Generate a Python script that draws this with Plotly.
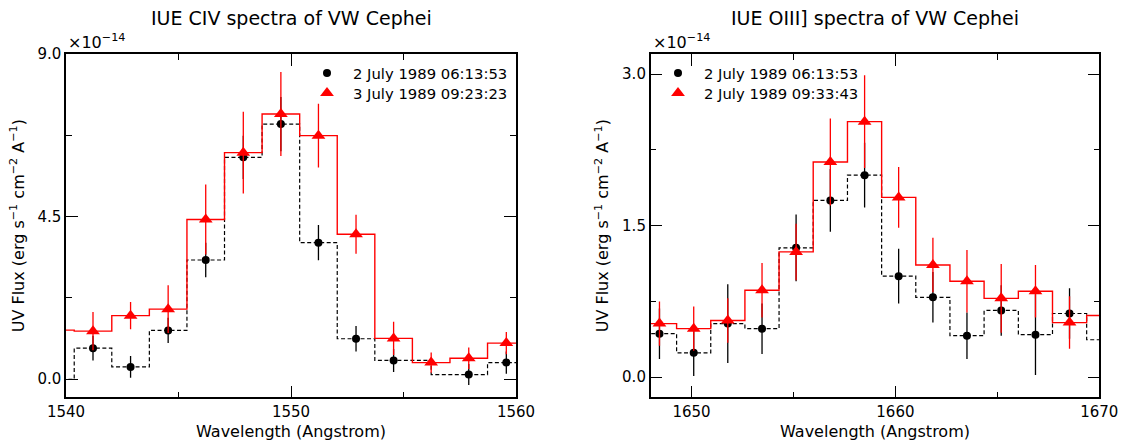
import plotly.graph_objects as go

# ---------------- data (flux in units of 1e-14 erg s^-1 cm^-2 A^-1) ----------------
# CIV panel
civ_wave_a = [1539.53, 1541.20, 1542.87, 1544.54, 1546.21, 1547.88, 1549.55, 1551.22,
              1552.89, 1554.56, 1557.90, 1559.57, 1561.24]
civ_flux_a = [0.00, 0.86, 0.34, 1.35, 3.30, 6.14, 7.06, 3.78, 1.12, 0.52, 0.13, 0.46, 0.46]
civ_err_a = [0.00, 0.34, 0.30, 0.35, 0.48, 0.60, 0.75, 0.49, 0.35, 0.32, 0.29, 0.31, 0.00]

civ_wave_b = [1539.53, 1541.20, 1542.87, 1544.54, 1546.21, 1547.88, 1549.55, 1551.22,
              1552.89, 1554.56, 1556.23, 1557.90, 1559.57, 1561.24]
civ_flux_b = [1.36, 1.33, 1.76, 1.94, 4.42, 6.27, 7.34, 6.74, 4.01, 1.13, 0.46, 0.58, 1.00, 1.00]
civ_err_b = [0.00, 0.53, 0.38, 0.66, 0.97, 1.13, 1.16, 0.88, 0.54, 0.46, 0.28, 0.30, 0.31, 0.00]

civ_label_a = "2 July 1989 06:13:53"
civ_label_b = "3 July 1989 09:23:23"

# OIII] panel
oiii_wave = [1646.75, 1648.43, 1650.11, 1651.78, 1653.46, 1655.13, 1656.81, 1658.49,
             1660.16, 1661.84, 1663.51, 1665.19, 1666.87, 1668.54, 1670.22]
oiii_flux_a = [0.43, 0.43, 0.24, 0.53, 0.48, 1.28, 1.75, 2.00, 1.00, 0.79, 0.41, 0.66, 0.42, 0.63, 0.37]
oiii_err_a = [0.00, 0.25, 0.23, 0.39, 0.25, 0.33, 0.31, 0.32, 0.27, 0.25, 0.23, 0.25, 0.40, 0.25, 0.00]
oiii_flux_b = [0.53, 0.53, 0.48, 0.56, 0.86, 1.24, 2.13, 2.53, 1.78, 1.11, 0.95, 0.78, 0.85, 0.54, 0.61]
oiii_err_b = [0.00, 0.22, 0.22, 0.22, 0.27, 0.28, 0.43, 0.46, 0.30, 0.27, 0.31, 0.34, 0.26, 0.26, 0.00]

oiii_label_a = "2 July 1989 06:13:53"
oiii_label_b = "2 July 1989 09:33:43"

civ_yticks = [0.0, 4.5, 9.0]
civ_yminor = [2.25, 6.75]
civ_xticks = [1540, 1550, 1560]
civ_xminor = [1545, 1555]
oiii_yticks = [0.0, 1.5, 3.0]
oiii_yminor = [0.75, 2.25]
oiii_xticks = [1650, 1660, 1670]
oiii_xminor = [1655, 1665]

# ---------------- figure ----------------
FONT = "DejaVu Sans"
W, H = 1123, 448
RED = "#ff0000"
CIRCLE = dict(symbol="circle", size=8, color="black")
TRIANGLE = dict(symbol="triangle-up", size=12, color=RED)

fig = go.Figure()


def add_panel(xa, ya, wave_a, flux_a, err_a, wave_b, flux_b, err_b, lab_a, lab_b):
    # step lines
    fig.add_trace(go.Scatter(x=wave_a, y=flux_a, mode="lines", line_shape="hvh",
                             line=dict(color="black", width=1.2, dash="4px,2.5px"),
                             xaxis=xa, yaxis=ya, showlegend=False, hoverinfo="skip"))
    fig.add_trace(go.Scatter(x=wave_b, y=flux_b, mode="lines", line_shape="hvh",
                             line=dict(color=RED, width=1.4),
                             xaxis=xa, yaxis=ya, showlegend=False, hoverinfo="skip"))
    # points with error bars
    fig.add_trace(go.Scatter(x=wave_a[1:-1], y=flux_a[1:-1], mode="markers", marker=CIRCLE,
                             error_y=dict(type="data", array=err_a[1:-1], color="black",
                                          thickness=1.3, width=0),
                             xaxis=xa, yaxis=ya, name=lab_a, showlegend=False))
    fig.add_trace(go.Scatter(x=wave_b[1:-1], y=flux_b[1:-1], mode="markers", marker=TRIANGLE,
                             error_y=dict(type="data", array=err_b[1:-1], color=RED,
                                          thickness=1.3, width=0),
                             xaxis=xa, yaxis=ya, name=lab_b, showlegend=False))


add_panel("x", "y", civ_wave_a, civ_flux_a, civ_err_a,
          civ_wave_b, civ_flux_b, civ_err_b, civ_label_a, civ_label_b)
add_panel("x2", "y2", oiii_wave, oiii_flux_a, oiii_err_a,
          oiii_wave, oiii_flux_b, oiii_err_b, oiii_label_a, oiii_label_b)

# pixel geometry
L1, R1 = 66, 516
L2, R2 = 650.7, 1099.3
TOP, BOT = 54, 397.3
dom_y = [(H - BOT) / H, (H - TOP) / H]

# legend key layout (pixel positions of symbol centres, text starts 25 px right)
LEG_ROWS = [73, 93]
LEG_X = [327, 678]

# legend symbols on a full-page overlay axis measured in pixels
fig.add_trace(go.Scatter(x=[LEG_X[0], LEG_X[1]], y=[LEG_ROWS[0]] * 2, mode="markers",
                         marker=CIRCLE, xaxis="x3", yaxis="y3", showlegend=False,
                         hoverinfo="skip", cliponaxis=False))
fig.add_trace(go.Scatter(x=[LEG_X[0], LEG_X[1]], y=[LEG_ROWS[1]] * 2, mode="markers",
                         marker=TRIANGLE, xaxis="x3", yaxis="y3", showlegend=False,
                         hoverinfo="skip", cliponaxis=False))


def xaxis(dom, rng, ticks, minor):
    return dict(domain=[dom[0] / W, dom[1] / W], range=rng, tickmode="array",
                tickvals=ticks, ticktext=[str(t) for t in ticks], automargin=False,
                ticks="inside", ticklen=12, tickwidth=1.2, tickcolor="black",
                minor=dict(tickmode="array", tickvals=minor, ticks="inside", ticklen=6,
                           tickwidth=1.2, tickcolor="black"),
                showline=True, linecolor="black", linewidth=1.5, mirror="allticks",
                showgrid=False, zeroline=False,
                tickfont=dict(family=FONT, size=15, color="black"),
                title=dict(text="Wavelength (Angstrom)", standoff=6,
                           font=dict(family=FONT, size=16, color="black")))


def yaxis(rng, ticks, minor, anchor):
    return dict(domain=dom_y, range=rng, tickmode="array", anchor=anchor, automargin=False,
                tickvals=ticks, ticktext=[f"{t:.1f}" for t in ticks],
                ticks="inside", ticklen=12, tickwidth=1.2, tickcolor="black",
                minor=dict(tickmode="array", tickvals=minor, ticks="inside", ticklen=6,
                           tickwidth=1.2, tickcolor="black"),
                showline=True, linecolor="black", linewidth=1.5, mirror="allticks",
                showgrid=False, zeroline=False,
                tickfont=dict(family=FONT, size=15, color="black"),
                title=dict(text="UV Flux (erg s<sup>−1</sup> cm<sup>−2</sup> A<sup>−1</sup>)",
                           standoff=9, font=dict(family=FONT, size=16, color="black")))


xa1 = xaxis((L1, R1), [1540, 1560], civ_xticks, civ_xminor)
xa1["anchor"] = "y"
xa2 = xaxis((L2, R2), [1648, 1670], oiii_xticks, oiii_xminor)
xa2["anchor"] = "y2"

annotations = [
    dict(text="IUE CIV spectra of VW Cephei", x=(L1 + R1) / 2 / W, y=(H - 18) / H,
         xref="paper", yref="paper", xanchor="center", yanchor="middle", showarrow=False,
         font=dict(family=FONT, size=19, color="black")),
    dict(text="IUE OIII] spectra of VW Cephei", x=(L2 + R2) / 2 / W, y=(H - 18) / H,
         xref="paper", yref="paper", xanchor="center", yanchor="middle", showarrow=False,
         font=dict(family=FONT, size=19, color="black")),
    dict(text="×10<sup>−14</sup>", x=(L1 + 1) / W, y=(H - TOP + 1) / H, align="left",
         xref="paper", yref="paper", xanchor="left", yanchor="bottom", showarrow=False,
         borderpad=0, font=dict(family=FONT, size=16, color="black")),
    dict(text="×10<sup>−14</sup>", x=(L2 + 1) / W, y=(H - TOP + 1) / H, align="left",
         xref="paper", yref="paper", xanchor="left", yanchor="bottom", showarrow=False,
         borderpad=0, font=dict(family=FONT, size=16, color="black")),
]
for lx, labs in zip(LEG_X, [(civ_label_a, civ_label_b), (oiii_label_a, oiii_label_b)]):
    for row, lab in zip(LEG_ROWS, labs):
        annotations.append(dict(text=lab, x=(lx + 25) / W, y=(H - row) / H,
                                xref="paper", yref="paper", xanchor="left", yanchor="middle",
                                showarrow=False, borderpad=0,
                                font=dict(family=FONT, size=14.8, color="black")))

fig.update_layout(
    width=W, height=H,
    margin=dict(l=0, r=0, t=0, b=0, autoexpand=False),
    paper_bgcolor="white", plot_bgcolor="rgba(0,0,0,0)",
    font=dict(family=FONT, color="black"),
    showlegend=False,
    xaxis=xa1,
    yaxis=yaxis([-0.5, 9.0], civ_yticks, civ_yminor, "x"),
    xaxis2=xa2,
    yaxis2=yaxis([-0.2, 3.2], oiii_yticks, oiii_yminor, "x2"),
    xaxis3=dict(domain=[0, 1], range=[0, W], visible=False, fixedrange=True, anchor="y3"),
    yaxis3=dict(domain=[0, 1], range=[H, 0], visible=False, fixedrange=True, anchor="x3"),
    annotations=annotations,
)

fig.write_html("out.html")
